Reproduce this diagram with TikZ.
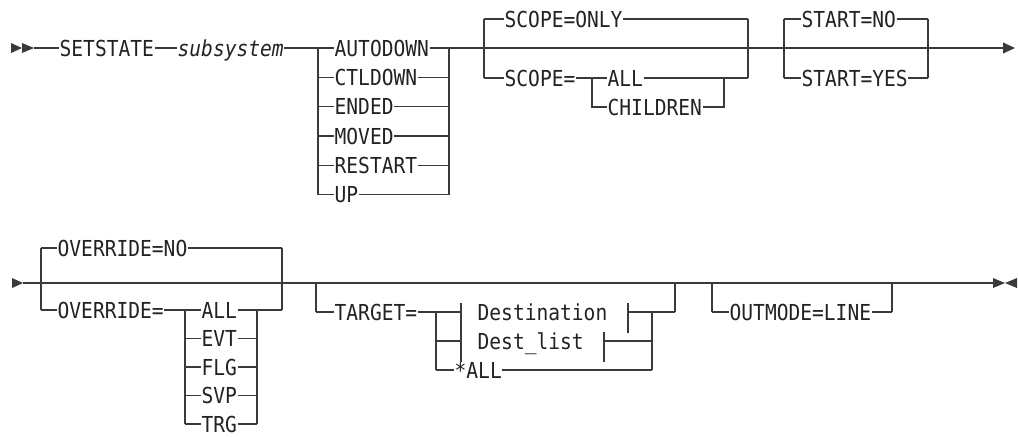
\documentclass[tikz,border=0pt]{standalone}
\usepackage{fontspec}
\setmonofont{DejaVu Sans Mono}[FakeStretch=0.89]
\usetikzlibrary{arrows.meta}
\definecolor{crail}{HTML}{3A3A3A}
\definecolor{ctext}{HTML}{222222}
\tikzset{
  every picture/.style={line width=0.65pt},
  rail/.style={draw=crail, line width=0.65pt},
  kw/.style={font=\ttfamily\fontsize{11}{13}\selectfont, text=ctext, anchor=west,
             inner sep=0pt, text height=8pt, text depth=0pt},
  var/.style={kw, font=\ttfamily\itshape\fontsize{11}{13}\selectfont},
  tip/.style={fill=crail},
  endarrow/.style={rail, -{Triangle[length=6pt, width=5.4pt]}},
}

\begin{document}
\begin{tikzpicture}[x=0.5pt, y=-0.5pt]
  \useasboundingbox (0,0) rectangle (1018,436);

  % first line
  \fill[tip] (11,43) -- (22,48) -- (11,53) -- cycle;
  \fill[tip] (22,43) -- (34,48) -- (22,53) -- cycle;
  \coordinate (in1) at (34,48);
  \node[kw] (setstate) at (59,48) {SETSTATE};
  \node[var] (subsys) at (177,48) {subsystem};
  \draw[rail] (in1) -- (setstate.west) (setstate.east) -- (subsys.west);
  \draw[rail] (subsys.east) -- (318,48);

  % state choice
  \foreach \lbl [count=\i from 0] in {AUTODOWN,CTLDOWN,ENDED,MOVED,RESTART,UP} {
    \node[kw] (st\i) at (334,{48+29.35*\i}) {\lbl};
    \draw[rail] (318,{48+29.35*\i}) -- (st\i.west) (st\i.east) -- (449,{48+29.35*\i});
  }
  \draw[rail] (318,48) -- (318,194.75);
  \draw[rail] (449,48) -- (449,194.75);
  \coordinate (out1) at (1015,48);
  \draw[endarrow] (449,48) -- (out1);

  % SCOPE
  \node[kw] (scopeonly) at (504,19) {SCOPE=ONLY};
  \node[kw] (scopeeq) at (504,78) {SCOPE=};
  \node[kw] (scall) at (607,78) {ALL};
  \node[kw] (scchild) at (607,107) {CHILDREN};
  \draw[rail] (484,19) -- (484,78) (748,19) -- (748,78);
  \draw[rail] (484,19) -- (scopeonly.west) (scopeonly.east) -- (748,19);
  \draw[rail] (484,78) -- (scopeeq.west) (scopeeq.east) -- (592,78);
  \draw[rail] (592,78) -- (scall.west) (scall.east) -- (748,78);
  \draw[rail] (592,78) |- (scchild.west) (scchild.east) -| (724,78);

  % START
  \node[kw] (startno) at (801,19) {START=NO};
  \node[kw] (startyes) at (801,78) {START=YES};
  \draw[rail] (784,19) -- (784,78) (928,19) -- (928,78);
  \draw[rail] (784,19) -- (startno.west) (startno.east) -- (928,19);
  \draw[rail] (784,78) -- (startyes.west) (startyes.east) -- (928,78);

  % second line
  \fill[tip] (12,278) -- (23,283) -- (12,288) -- cycle;
  \coordinate (in2) at (23,283);
  \coordinate (out2) at (993,283);
  \draw[rail] (in2) -- (out2);
  \draw[crail, line width=1.1pt] (897,283) -- (921,283);
  \fill[tip] (993,278) -- (1005,283) -- (993,288) -- cycle;
  \fill[tip] (1017,278) -- (1005,283) -- (1017,288) -- cycle;

  % OVERRIDE
  \node[kw] (ovno) at (57,248) {OVERRIDE=NO};
  \node[kw] (oveq) at (57,310) {OVERRIDE=};
  \draw[rail] (41,248) -- (41,310) (282,248) -- (282,310);
  \draw[rail] (41,248) -- (ovno.west) (ovno.east) -- (282,248);
  \draw[rail] (41,310) -- (oveq.west) (oveq.east) -- (185,310);
  \foreach \lbl [count=\i from 0] in {ALL,EVT,FLG,SVP,TRG} {
    \node[kw] (ov\i) at (201,{310+28.5*\i}) {\lbl};
    \draw[rail] (185,{310+28.5*\i}) -- (ov\i.west) (ov\i.east) -- (257,{310+28.5*\i});
  }
  \draw[rail] (185,310) -- (185,424) (257,310) -- (257,424);
  \draw[rail] (257,310) -- (282,310);

  % TARGET
  \node[kw] (target) at (334,312) {TARGET=};
  \node[kw] (dest) at (477,312) {Destination};
  \node[kw] (dlist) at (477,341) {Dest\_list};
  \node[kw] (tgall) at (454,370) {*ALL};
  \draw[rail] (316,283) -- (316,312) (675,283) -- (675,312);
  \draw[rail] (316,312) -- (target.west) (target.east) -- (436,312);
  \draw[rail] (436,312) -- (436,370) (652,312) -- (652,370);
  \draw[rail] (436,312) -- (461,312) (436,341) -- (461,341);
  \draw[rail] (461,303) -- (461,362);
  \draw[rail] (628,303) -- (628,333) (628,312) -- (652,312);
  \draw[rail] (604,332) -- (604,362) (604,341) -- (652,341);
  \draw[rail] (436,370) -- (tgall.west) (tgall.east) -- (652,370);
  \draw[rail] (652,312) -- (675,312);

  % OUTMODE
  \node[kw] (outmode) at (729,312) {OUTMODE=LINE};
  \draw[rail] (712,283) -- (712,312) (892,283) -- (892,312);
  \draw[rail] (712,312) -- (outmode.west) (outmode.east) -- (892,312);
\end{tikzpicture}
\end{document}
